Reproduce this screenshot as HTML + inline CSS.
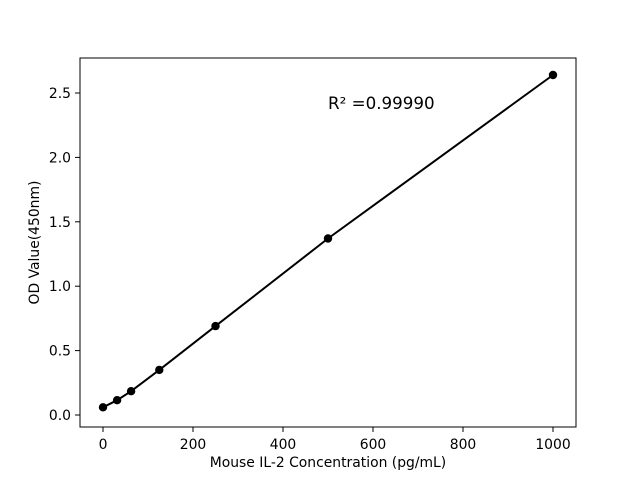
<!DOCTYPE html>
<html><head><style>body{margin:0;background:#fff}svg{display:block}</style></head><body>
<svg width="640" height="480" xmlns="http://www.w3.org/2000/svg" font-family="'DejaVu Sans', sans-serif" font-size="13.9">
<rect x="80" y="58" width="496" height="369" fill="none" stroke="#000" stroke-width="1"/>
<g stroke="#000" stroke-width="1">
<line x1="103" y1="427" x2="103" y2="432"/><line x1="193" y1="427" x2="193" y2="432"/><line x1="283" y1="427" x2="283" y2="432"/><line x1="373" y1="427" x2="373" y2="432"/><line x1="463" y1="427" x2="463" y2="432"/><line x1="553" y1="427" x2="553" y2="432"/>
<line x1="75" y1="415" x2="80" y2="415"/><line x1="75" y1="350.6" x2="80" y2="350.6"/><line x1="75" y1="286.2" x2="80" y2="286.2"/><line x1="75" y1="221.8" x2="80" y2="221.8"/><line x1="75" y1="157.4" x2="80" y2="157.4"/><line x1="75" y1="93" x2="80" y2="93"/>
</g>
<g text-anchor="middle">
<text x="103" y="449">0</text><text x="193" y="449">200</text><text x="283" y="449">400</text><text x="373" y="449">600</text><text x="463" y="449">800</text><text x="553" y="449">1000</text>
</g>
<g text-anchor="end">
<text x="71" y="420">0.0</text><text x="71" y="355.6">0.5</text><text x="71" y="291.2">1.0</text><text x="71" y="226.8">1.5</text><text x="71" y="162.4">2.0</text><text x="71" y="98">2.5</text>
</g>
<text x="328" y="467" text-anchor="middle">Mouse IL-2 Concentration (pg/mL)</text>
<text transform="translate(39,242.5) rotate(-90)" text-anchor="middle">OD Value(450nm)</text>
<text x="328" y="109" font-size="16.7">R² =0.99990</text>
<polyline fill="none" stroke="#000" stroke-width="2" points="103,407.3 117.1,400.2 131.1,391.2 159.3,369.9 215.5,326.1 328,238.5 553,75"/>
<g fill="#000">
<circle cx="103" cy="407.3" r="4.2"/><circle cx="117.1" cy="400.2" r="4.2"/><circle cx="131.1" cy="391.2" r="4.2"/><circle cx="159.3" cy="369.9" r="4.2"/><circle cx="215.5" cy="326.1" r="4.2"/><circle cx="328" cy="238.5" r="4.2"/><circle cx="553" cy="75" r="4.2"/>
</g>
</svg>
</body></html>
